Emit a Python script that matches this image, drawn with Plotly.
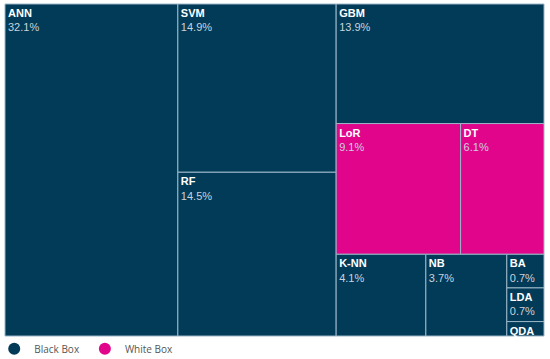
import plotly.graph_objects as go

labels = ["ANN", "SVM", "RF", "GBM", "LoR", "DT", "K-NN", "NB", "BA", "LDA", "QDA"]
values = [32.1, 14.9, 14.5, 13.9, 9.1, 6.1, 4.1, 3.7, 0.7, 0.7, 0.3]
groups = ["Black Box", "Black Box", "Black Box", "Black Box", "White Box", "White Box",
          "Black Box", "Black Box", "Black Box", "Black Box", "Black Box"]
group_names = ["Black Box", "White Box"]
group_colors = {"Black Box": "#023b58", "White Box": "#e1058c"}

colors = [group_colors[g] for g in groups]
texts = ["<b>%s</b><br><span style='color:#c9d3dc'>%.1f%%</span>" % (l, v) if l != "QDA" else "<b>%s</b>" % l
         for l, v in zip(labels, values)]

fig = go.Figure()
fig.add_trace(go.Treemap(
    labels=labels,
    parents=[""] * len(labels),
    values=values,
    text=texts,
    texttemplate="%{text}",
    textposition="top left",
    textfont=dict(family="Liberation Sans, Arial, sans-serif", size=11, color="white"),
    marker=dict(colors=colors, line=dict(color="#9bb6c8", width=1), pad=dict(t=0, l=0, r=0, b=0)),
    tiling=dict(packing="squarify", pad=0),
    pathbar=dict(visible=False),
    sort=True,
    hoverinfo="label+value",
))

for g in group_names:
    fig.add_trace(go.Scatter(
        x=[None], y=[None], mode="markers", name=g,
        marker=dict(symbol="circle", size=9, color=group_colors[g]),
        showlegend=True,
    ))

fig.update_layout(
    width=550, height=359,
    margin=dict(l=5, r=6, t=4, b=23, autoexpand=False),
    paper_bgcolor="white", plot_bgcolor="white",
    xaxis=dict(visible=False), yaxis=dict(visible=False),
    showlegend=True,
    uniformtext=dict(minsize=11, mode="show"),
    legend=dict(orientation="h", x=-0.02, xanchor="left", y=0.005, yanchor="top",
                font=dict(family="Open Sans, sans-serif", size=10, color="#555555"),
                itemwidth=30, itemsizing="constant", bgcolor="rgba(0,0,0,0)"),
)

fig.write_html("out.html", config={"displayModeBar": False},
               post_script="document.body.style.margin='0px';")
